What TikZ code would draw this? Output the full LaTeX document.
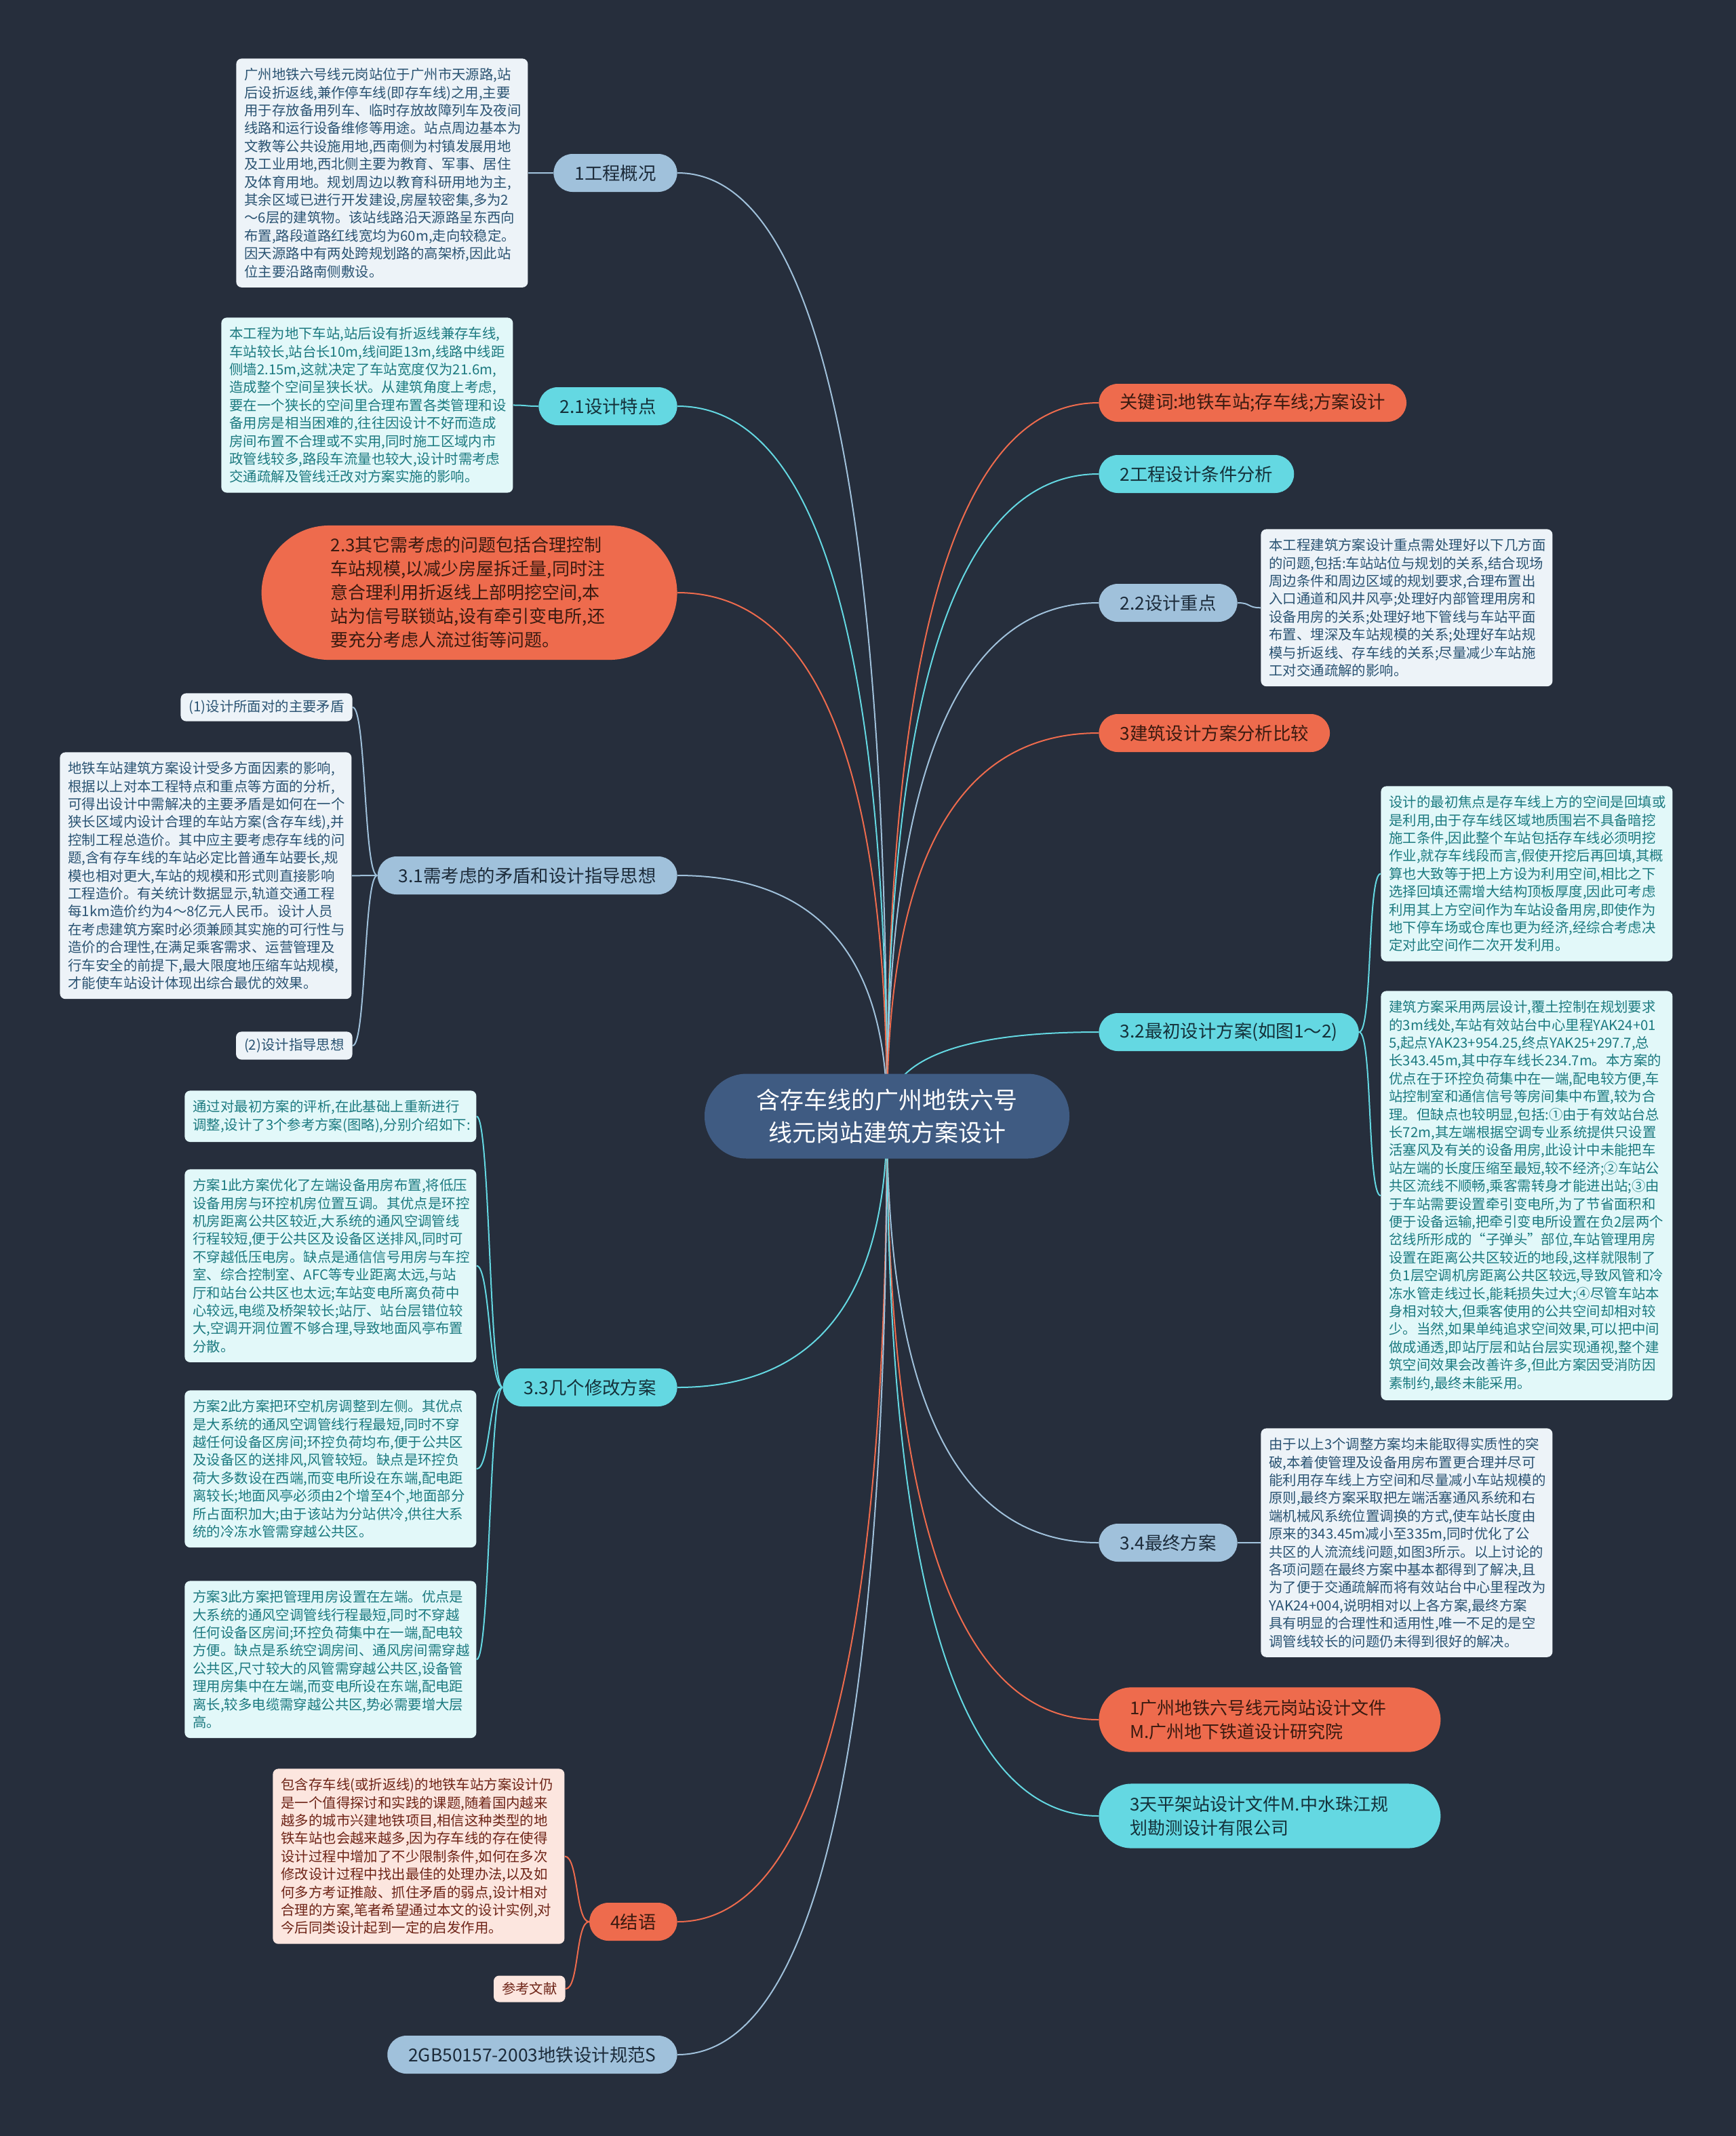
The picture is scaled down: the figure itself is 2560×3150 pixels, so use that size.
\documentclass[tikz,border=0pt]{standalone}
\usepackage{fontspec}
\newfontfamily\cjk{Noto Sans CJK SC}
\usetikzlibrary{calc}
\definecolor{bg}{HTML}{262E3C}
\definecolor{cfill}{HTML}{3F5B82}
\definecolor{lbfill}{HTML}{A0C1DB}
\definecolor{lbtext}{HTML}{1C2B3A}
\definecolor{cyfill}{HTML}{64D8E2}
\definecolor{cytext}{HTML}{14313A}
\definecolor{orfill}{HTML}{EE6B4D}
\definecolor{ortext}{HTML}{3A1A10}
\definecolor{lbleaf}{HTML}{EDF3F8}
\definecolor{lbleaftext}{HTML}{2A5372}
\definecolor{cyleaf}{HTML}{E2F8F9}
\definecolor{cyleaftext}{HTML}{1C7A80}
\definecolor{orleaf}{HTML}{FCE6DF}
\definecolor{orleaftext}{HTML}{6E2417}
\tikzset{
  x=0.5pt, y=-0.5pt,
  bnode/.style={rounded corners=14pt, minimum height=28pt, inner xsep=15.5pt, inner ysep=0pt, font=\cjk\fontsize{13.2}{16}\selectfont},
  lbn/.style={bnode, fill=lbfill, text=lbtext},
  cyn/.style={bnode, fill=cyfill, text=cytext},
  orn/.style={bnode, fill=orfill, text=ortext},
  leaf/.style={rounded corners=4pt, inner xsep=6pt, inner ysep=7pt, align=left, text width=203pt, font=\cjk\fontsize{10.2}{13.2}\selectfont},
  leafshort/.style={rounded corners=4pt, inner xsep=6pt, inner ysep=5pt, font=\cjk\fontsize{10.2}{13}\selectfont},
  lbleafs/.style={fill=lbleaf, text=lbleaftext},
  cyleafs/.style={fill=cyleaf, text=cyleaftext},
  orleafs/.style={fill=orleaf, text=orleaftext},
  lbline/.style={draw=lbfill, line width=1pt},
  cyline/.style={draw=cyfill, line width=1pt},
  orline/.style={draw=orfill, line width=1pt},
}
\newcommand{\mainlink}[2]{\draw[#1] (C) .. controls ($(C)!2/3!(C |- #2)$) and ($(#2)!2/3!(C |- #2)$) .. (#2);}
\newcommand{\leafL}[3]{\draw[#1] (#2) .. controls +(-20,0) and +(20,0) .. (#3);}
\newcommand{\leafR}[3]{\draw[#1] (#2) .. controls +(20,0) and +(-20,0) .. (#3);}
\begin{document}
\begin{tikzpicture}
\fill[bg] (0,0) rectangle (2560,3150);
\coordinate (C) at (1308,1646);

% left branch nodes
\node[lbn, anchor=east] (b1) at (999,255) {1工程概况};
\node[cyn, anchor=east] (b21) at (999,599) {2.1设计特点};
\node[orn, anchor=east, rounded corners=50pt, inner xsep=51pt, inner ysep=8.5pt, text width=204.5pt, align=left, font=\cjk\fontsize{13}{17.5}\selectfont] (b23) at (999,874) {2.3其它需考虑的问题包括合理控制\\车站规模,以减少房屋拆迁量,同时注\\意合理利用折返线上部明挖空间,本\\站为信号联锁站,设有牵引变电所,还\\要充分考虑人流过街等问题。};
\node[lbn, anchor=east] (b31) at (999,1291) {3.1需考虑的矛盾和设计指导思想};
\node[cyn, anchor=east] (b33) at (999,2046) {3.3几个修改方案};
\node[orn, anchor=east] (b4) at (999,2834) {4结语};
\node[lbn, anchor=east] (bgb) at (999,3030) {2GB50157-2003地铁设计规范S};

% right branch nodes
\node[orn, anchor=west] (bkw) at (1620,594) {关键词:地铁车站;存车线;方案设计};
\node[cyn, anchor=west] (b2) at (1620,699) {2工程设计条件分析};
\node[lbn, anchor=west] (b22) at (1620,889) {2.2设计重点};
\node[orn, anchor=west] (b3) at (1620,1081) {3建筑设计方案分析比较};
\node[cyn, anchor=west] (b32) at (1620,1522) {3.2最初设计方案(如图1～2)};
\node[lbn, anchor=west] (b34) at (1620,2275) {3.4最终方案};
\node[orn, anchor=west, rounded corners=24pt, inner xsep=23pt, inner ysep=9pt, text width=206pt, align=left, font=\cjk\fontsize{13}{17.5}\selectfont] (br1) at (1620,2536) {1广州地铁六号线元岗站设计文件\\M.广州地下铁道设计研究院};
\node[cyn, anchor=west, rounded corners=24pt, inner xsep=23pt, inner ysep=9pt, text width=206pt, align=left, font=\cjk\fontsize{13}{17.5}\selectfont] (br3) at (1620,2678) {3天平架站设计文件M.中水珠江规\\划勘测设计有限公司};

% leaves
\node[leaf, lbleafs, anchor=north west] (l1) at (348,86) {广州地铁六号线元岗站位于广州市天源路,站\\后设折返线,兼作停车线(即存车线)之用,主要\\用于存放备用列车、临时存放故障列车及夜间\\线路和运行设备维修等用途。站点周边基本为\\文教等公共设施用地,西南侧为村镇发展用地\\及工业用地,西北侧主要为教育、军事、居住\\及体育用地。规划周边以教育科研用地为主,\\其余区域已进行开发建设,房屋较密集,多为2\\～6层的建筑物。该站线路沿天源路呈东西向\\布置,路段道路红线宽均为60m,走向较稳定。\\因天源路中有两处跨规划路的高架桥,因此站\\位主要沿路南侧敷设。};
\node[leaf, cyleafs, anchor=north west] (l21) at (326,468) {本工程为地下车站,站后设有折返线兼存车线,\\车站较长,站台长10m,线间距13m,线路中线距\\侧墙2.15m,这就决定了车站宽度仅为21.6m,\\造成整个空间呈狭长状。从建筑角度上考虑,\\要在一个狭长的空间里合理布置各类管理和设\\备用房是相当困难的,往往因设计不好而造成\\房间布置不合理或不实用,同时施工区域内市\\政管线较多,路段车流量也较大,设计时需考虑\\交通疏解及管线迁改对方案实施的影响。};
\node[leafshort, lbleafs, anchor=east] (l31a) at (520,1043) {(1)设计所面对的主要矛盾};
\node[leaf, lbleafs, anchor=north west] (l31b) at (88,1109) {地铁车站建筑方案设计受多方面因素的影响,\\根据以上对本工程特点和重点等方面的分析,\\可得出设计中需解决的主要矛盾是如何在一个\\狭长区域内设计合理的车站方案(含存车线),并\\控制工程总造价。其中应主要考虑存车线的问\\题,含有存车线的车站必定比普通车站要长,规\\模也相对更大,车站的规模和形式则直接影响\\工程造价。有关统计数据显示,轨道交通工程\\每1km造价约为4～8亿元人民币。设计人员\\在考虑建筑方案时必须兼顾其实施的可行性与\\造价的合理性,在满足乘客需求、运营管理及\\行车安全的前提下,最大限度地压缩车站规模,\\才能使车站设计体现出综合最优的效果。};
\node[leafshort, lbleafs, anchor=east] (l31c) at (520,1542) {(2)设计指导思想};
\node[leaf, cyleafs, anchor=north west] (l33a) at (272,1608) {通过对最初方案的评析,在此基础上重新进行\\调整,设计了3个参考方案(图略),分别介绍如下:};
\node[leaf, cyleafs, anchor=north west] (l33b) at (272,1724) {方案1此方案优化了左端设备用房布置,将低压\\设备用房与环控机房位置互调。其优点是环控\\机房距离公共区较近,大系统的通风空调管线\\行程较短,便于公共区及设备区送排风,同时可\\不穿越低压电房。缺点是通信信号用房与车控\\室、综合控制室、AFC等专业距离太远,与站\\厅和站台公共区也太远;车站变电所离负荷中\\心较远,电缆及桥架较长;站厅、站台层错位较\\大,空调开洞位置不够合理,导致地面风亭布置\\分散。};
\node[leaf, cyleafs, anchor=north west] (l33c) at (272,2050) {方案2此方案把环空机房调整到左侧。其优点\\是大系统的通风空调管线行程最短,同时不穿\\越任何设备区房间;环控负荷均布,便于公共区\\及设备区的送排风,风管较短。缺点是环控负\\荷大多数设在西端,而变电所设在东端,配电距\\离较长;地面风亭必须由2个增至4个,地面部分\\所占面积加大;由于该站为分站供冷,供往大系\\统的冷冻水管需穿越公共区。};
\node[leaf, cyleafs, anchor=north west] (l33d) at (272,2331) {方案3此方案把管理用房设置在左端。优点是\\大系统的通风空调管线行程最短,同时不穿越\\任何设备区房间;环控负荷集中在一端,配电较\\方便。缺点是系统空调房间、通风房间需穿越\\公共区,尺寸较大的风管需穿越公共区,设备管\\理用房集中在左端,而变电所设在东端,配电距\\离长,较多电缆需穿越公共区,势必需要增大层\\高。};
\node[leaf, orleafs, anchor=north west] (l4a) at (402,2608) {包含存车线(或折返线)的地铁车站方案设计仍\\是一个值得探讨和实践的课题,随着国内越来\\越多的城市兴建地铁项目,相信这种类型的地\\铁车站也会越来越多,因为存车线的存在使得\\设计过程中增加了不少限制条件,如何在多次\\修改设计过程中找出最佳的处理办法,以及如\\何多方考证推敲、抓住矛盾的弱点,设计相对\\合理的方案,笔者希望通过本文的设计实例,对\\今后同类设计起到一定的启发作用。};
\node[leafshort, orleafs, anchor=east] (l4b) at (834,2933) {参考文献};

\node[leaf, lbleafs, anchor=north west] (l22) at (1859,780) {本工程建筑方案设计重点需处理好以下几方面\\的问题,包括:车站站位与规划的关系,结合现场\\周边条件和周边区域的规划要求,合理布置出\\入口通道和风井风亭;处理好内部管理用房和\\设备用房的关系;处理好地下管线与车站平面\\布置、埋深及车站规模的关系;处理好车站规\\模与折返线、存车线的关系;尽量减少车站施\\工对交通疏解的影响。};
\node[leaf, cyleafs, anchor=north west] (l32a) at (2036,1159) {设计的最初焦点是存车线上方的空间是回填或\\是利用,由于存车线区域地质围岩不具备暗挖\\施工条件,因此整个车站包括存车线必须明挖\\作业,就存车线段而言,假使开挖后再回填,其概\\算也大致等于把上方设为利用空间,相比之下\\选择回填还需增大结构顶板厚度,因此可考虑\\利用其上方空间作为车站设备用房,即使作为\\地下停车场或仓库也更为经济,经综合考虑决\\定对此空间作二次开发利用。};
\node[leaf, cyleafs, anchor=north west] (l32b) at (2036,1461) {建筑方案采用两层设计,覆土控制在规划要求\\的3m线处,车站有效站台中心里程YAK24+01\\5,起点YAK23+954.25,终点YAK25+297.7,总\\长343.45m,其中存车线长234.7m。本方案的\\优点在于环控负荷集中在一端,配电较方便,车\\站控制室和通信信号等房间集中布置,较为合\\理。但缺点也较明显,包括:①由于有效站台总\\长72m,其左端根据空调专业系统提供只设置\\活塞风及有关的设备用房,此设计中未能把车\\站左端的长度压缩至最短,较不经济;②车站公\\共区流线不顺畅,乘客需转身才能进出站;③由\\于车站需要设置牵引变电所,为了节省面积和\\便于设备运输,把牵引变电所设置在负2层两个\\岔线所形成的“子弹头”部位,车站管理用房\\设置在距离公共区较近的地段,这样就限制了\\负1层空调机房距离公共区较远,导致风管和冷\\冻水管走线过长,能耗损失过大;④尽管车站本\\身相对较大,但乘客使用的公共空间却相对较\\少。当然,如果单纯追求空间效果,可以把中间\\做成通透,即站厅层和站台层实现通视,整个建\\筑空间效果会改善许多,但此方案因受消防因\\素制约,最终未能采用。};
\node[leaf, lbleafs, anchor=north west] (l34) at (1859,2106) {由于以上3个调整方案均未能取得实质性的突\\破,本着使管理及设备用房布置更合理并尽可\\能利用存车线上方空间和尽量减小车站规模的\\原则,最终方案采取把左端活塞通风系统和右\\端机械风系统位置调换的方式,使车站长度由\\原来的343.45m减小至335m,同时优化了公\\共区的人流流线问题,如图3所示。以上讨论的\\各项问题在最终方案中基本都得到了解决,且\\为了便于交通疏解而将有效站台中心里程改为\\YAK24+004,说明相对以上各方案,最终方案\\具有明显的合理性和适用性,唯一不足的是空\\调管线较长的问题仍未得到很好的解决。};

% leaf links
\leafL{lbline}{b1.west}{l1.east}
\leafL{cyline}{b21.west}{l21.east}
\leafL{lbline}{b31.west}{l31a.east}
\leafL{lbline}{b31.west}{l31b.east}
\leafL{lbline}{b31.west}{l31c.east}
\leafL{cyline}{b33.west}{l33a.east}
\leafL{cyline}{b33.west}{l33b.east}
\leafL{cyline}{b33.west}{l33c.east}
\leafL{cyline}{b33.west}{l33d.east}
\leafL{orline}{b4.west}{l4a.east}
\leafL{orline}{b4.west}{l4b.east}
\leafR{lbline}{b22.east}{l22.west}
\leafR{cyline}{b32.east}{l32a.west}
\leafR{cyline}{b32.east}{l32b.west}
\leafR{lbline}{b34.east}{l34.west}

% main links
\mainlink{lbline}{b1.east}
\mainlink{cyline}{b21.east}
\mainlink{orline}{b23.east}
\mainlink{lbline}{b31.east}
\mainlink{cyline}{b33.east}
\mainlink{orline}{b4.east}
\mainlink{lbline}{bgb.east}
\mainlink{orline}{bkw.west}
\mainlink{cyline}{b2.west}
\mainlink{lbline}{b22.west}
\mainlink{orline}{b3.west}
\mainlink{cyline}{b32.west}
\mainlink{lbline}{b34.west}
\mainlink{orline}{br1.west}
\mainlink{cyline}{br3.west}

% center
\node[fill=cfill, text=white, rounded corners=31pt, minimum width=269pt, minimum height=62.5pt, align=center, font=\cjk\fontsize{17.5}{24}\selectfont] (ctr) at (C) {含存车线的广州地铁六号\\线元岗站建筑方案设计};
\end{tikzpicture}
\end{document}
